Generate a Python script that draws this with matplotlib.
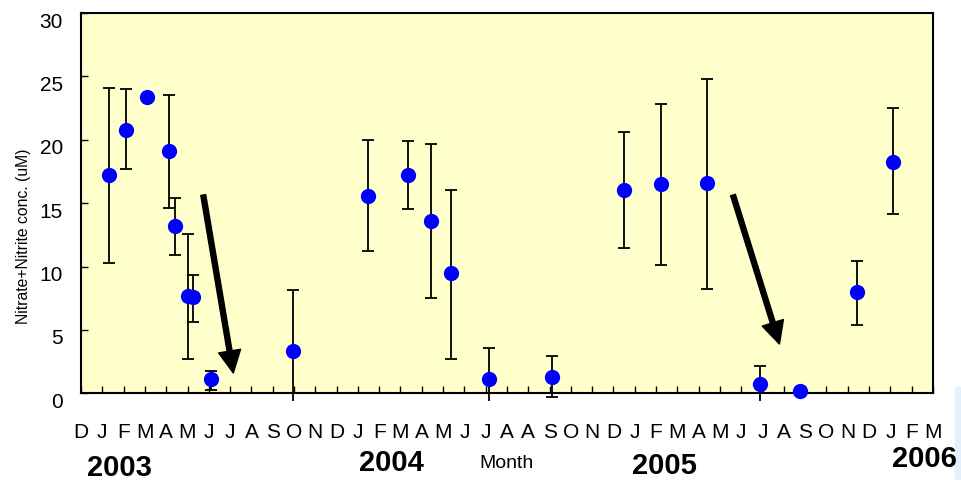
import numpy as np
import matplotlib
matplotlib.use("Agg")
import matplotlib.pyplot as plt
from matplotlib.patches import Rectangle
from matplotlib.transforms import ScaledTranslation

# month axis: one slot per label, D 2002 .. M 2006 (the original has "A A" in 2004)
months = ["D", "J", "F", "M", "A", "M", "J", "J", "A", "S", "O", "N",
          "D", "J", "F", "M", "A", "M", "J", "J", "A", "A", "S", "O", "N",
          "D", "J", "F", "M", "A", "M", "J", "J", "A", "S", "O", "N",
          "D", "J", "F", "M"]
years = ["2003", "2004", "2005", "2006"]

# sampling position (month slot), mean and error bar ends
x = [1.33, 2.10, 3.09, 4.12, 4.42, 5.04, 5.27, 6.09, 9.97,
     13.47, 15.36, 16.41, 17.39, 19.15, 22.11,
     25.47, 27.23, 29.39, 31.86, 33.76, 36.43, 38.11]
conc = [17.2, 20.8, 23.4, 19.1, 13.2, 7.7, 7.6, 1.13, 3.3,
        15.56, 17.2, 13.56, 9.46, 1.1, 1.31,
        16.03, 16.5, 16.6, 0.76, 0.18, 8.0, 18.26]
err_top = [24.1, 24.0, np.nan, 23.5, 15.4, 12.6, 9.3, 1.78, 8.15,
           20.0, 19.9, 19.66, 16.0, 3.55, 2.94,
           20.6, 22.8, 24.8, 2.15, np.nan, 10.46, 22.5]
err_bot = [10.25, 17.7, np.nan, 14.6, 10.9, 2.7, 5.65, 0.26, -1.5,
           11.2, 14.5, 7.5, 2.73, -1.0, -0.3,
           11.5, 10.1, 8.25, -1.0, np.nan, 5.4, 14.14]

# arrows (tail -> tip), in data units
arrow_tail = [(5.74, 15.64), (30.61, 15.64)]
arrow_tip = [(7.15, 1.6), (32.79, 3.89)]

x = np.array(x)
conc = np.array(conc)
err_top = np.array(err_top)
err_bot = np.array(err_bot)

plt.rcParams["font.family"] = ["Liberation Sans", "DejaVu Sans"]

fig = plt.figure(figsize=(9.62, 4.81), dpi=100)
ax = fig.add_axes([81 / 962, 1 - 394.3 / 481, 852 / 962, 380.3 / 481])
ax.set_facecolor("#FFFFCC")

ok = ~np.isnan(err_top)
eb = ax.errorbar(x[ok], conc[ok],
                 yerr=[conc[ok] - err_bot[ok], err_top[ok] - conc[ok]],
                 fmt="none", ecolor="black", elinewidth=1.3, capsize=4,
                 capthick=1.3, zorder=2)
# bars may hang a little below zero, the original cuts them a few px under the axis
clip = Rectangle((-1, -0.62), 50, 40, transform=ax.transData)
for art in list(eb.lines[1]) + list(eb.lines[2]):
    art.set_clip_path(clip)

ax.plot(x, conc, "o", color="#0000FF", markersize=11, markeredgewidth=0,
        zorder=3, clip_on=False)

for (tx, ty), (hx, hy) in zip(arrow_tail, arrow_tip):
    ax.annotate("", xy=(hx, hy), xytext=(tx, ty),
                arrowprops=dict(width=3.6, headwidth=16, headlength=16,
                                shrink=0, color="black"))

ax.set_xlim(0, len(months) - 1)
ax.set_ylim(0, 30)
ax.set_xticks(range(len(months)))
ax.set_xticklabels(months, fontsize=15)
ax.set_yticks(range(0, 31, 5))
ax.tick_params(axis="x", direction="in", length=5, width=1, pad=21)
ax.tick_params(axis="y", direction="in", length=5, width=1, pad=13,
               labelsize=15)
for lab in ax.get_yticklabels():
    lab.set_transform(lab.get_transform() +
                      ScaledTranslation(0, -0.06, fig.dpi_scale_trans))
for s in ax.spines.values():
    s.set_linewidth(1.5)

fig.text(23.5 / 962, 1 - 236 / 481, "Nitrate+Nitrite conc. (uM)",
         rotation=90, ha="center", va="center", fontsize=11.3)
fig.text(507 / 962, 1 - 464 / 481, "Month", ha="center", va="center",
         fontsize=14)

year_x = [119.5, 391.5, 664, 924.5]
year_y = [468, 463, 466, 459]
for yr, px, py in zip(years, year_x, year_y):
    fig.text(px / 962, 1 - py / 481, yr, ha="center", va="center",
             fontsize=21, fontweight="bold", zorder=5)

fig.patches.append(Rectangle((955 / 962, 0), 7 / 962, 93 / 481,
                             transform=fig.transFigure, color="#E3F1FF",
                             zorder=0))

fig.savefig("out.png", dpi=100)
